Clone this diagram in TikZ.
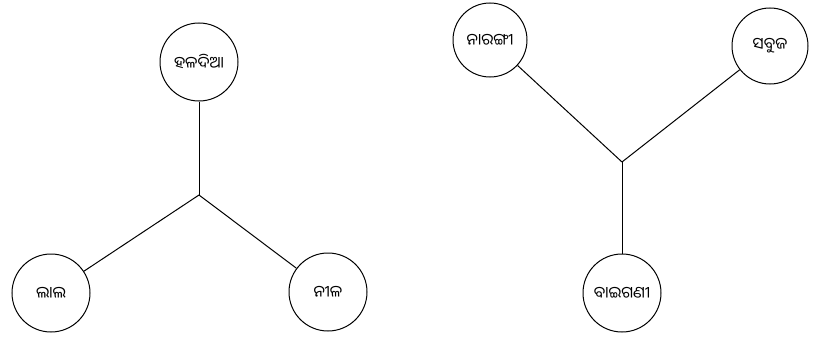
\documentclass[tikz,border=0pt]{standalone}
\usepackage{fontspec}
\newfontfamily\oriya[Script=Oriya]{Noto Sans Oriya UI}
\begin{document}
\begin{tikzpicture}[x=1pt,y=-1pt,
  colnode/.style={circle,draw,line width=1pt,minimum size=78pt,inner sep=0pt,font=\oriya\fontsize{16}{18}\selectfont},
  link/.style={line width=1pt}]
\useasboundingbox (0,0) rectangle (817,337);
\node[colnode] (yellow) at (199,62) {ହଳଦିଆ};
\node[colnode] (red) at (51,293) {ଲାଲ};
\node[colnode] (blue) at (328,292) {ନୀଳ};
\coordinate (j1) at (199,195);
\draw[link] (yellow) -- (j1);
\draw[link] (j1) -- (red);
\draw[link] (j1) -- (blue);
\node[colnode,minimum size=74pt] (orange) at (490,40) {ନାରଙ୍ଗୀ};
\node[colnode,minimum size=76pt] (green) at (770,46) {ସବୁଜ};
\node[colnode] (purple) at (622,293) {ବାଇଗଣୀ};
\coordinate (j2) at (622,162);
\draw[link] (orange) -- (j2);
\draw[link] (green) -- (j2);
\draw[link] (j2) -- (purple);
\end{tikzpicture}
\end{document}
